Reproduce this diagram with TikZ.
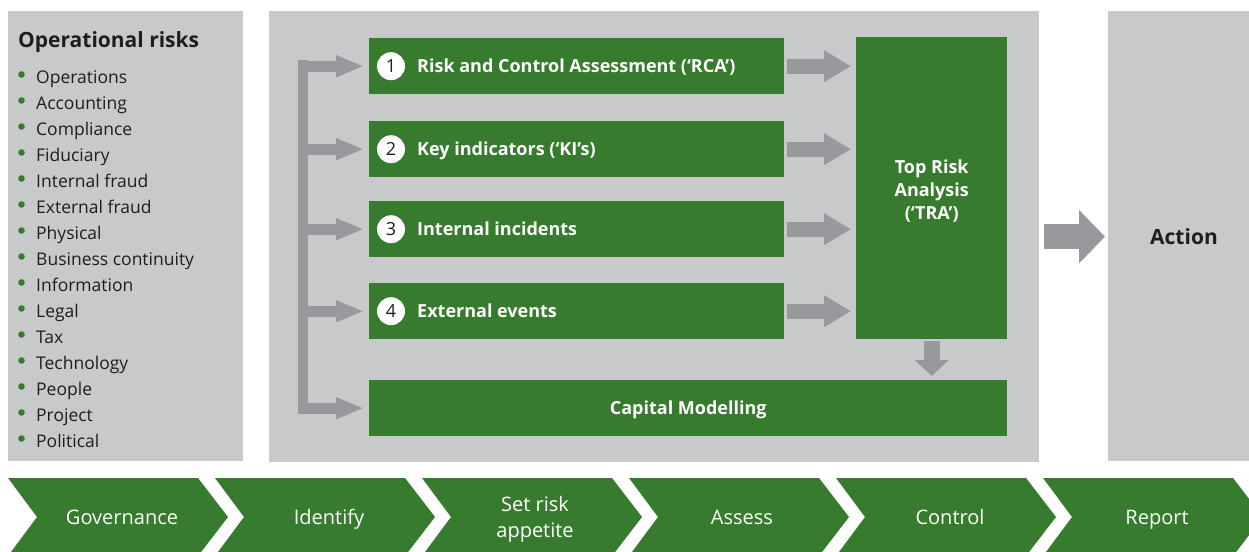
\documentclass[tikz,border=0pt]{standalone}
\usepackage{fontspec}
\setmainfont{Open Sans}
\usetikzlibrary{arrows.meta}
\definecolor{dgreen}{RGB}{55,123,46}
\definecolor{panelgray}{RGB}{200,201,203}
\definecolor{arrowgray}{RGB}{152,153,157}
\definecolor{txtdark}{RGB}{30,30,30}
\begin{document}
\begin{tikzpicture}[x=1pt,y=-1pt,
  panel/.style={fill=panelgray,draw=none,inner sep=0pt,anchor=north west},
  gbox/.style={fill=dgreen,draw=none,inner sep=0pt,anchor=north west},
  btext/.style={text=white,inner sep=0pt,anchor=base west,font=\fontsize{18}{22}\selectfont\bfseries},
  ctext/.style={text=white,inner sep=0pt,anchor=base,font=\fontsize{18}{22}\selectfont\bfseries},
  tratext/.style={text=white,inner sep=0pt,align=center,font=\fontsize{18}{23}\selectfont\bfseries},
  numc/.style={circle,fill=white,minimum size=28pt,inner sep=0pt,text=txtdark,
    font=\fontsize{18}{22}\selectfont},
  ltitle/.style={text=txtdark,inner sep=0pt,anchor=base west,font=\fontsize{21}{25}\selectfont\bfseries},
  litem/.style={text=txtdark,inner sep=0pt,anchor=base west,font=\fontsize{17.5}{21}\selectfont},
  bullet/.style={circle,fill=dgreen,minimum size=6.6pt,inner sep=0pt},
  chev/.style={fill=dgreen,draw=none},
  chevtext/.style={text=white,inner sep=0pt,anchor=base,font=\fontsize{20}{25}\selectfont},
  chevtwo/.style={text=white,inner sep=0pt,align=center,font=\fontsize{20}{25.5}\selectfont},
  rarrow/.style={draw=arrowgray,line width=15pt,-{Triangle[length=27pt,width=30pt]}},
  barrow/.style={draw=arrowgray,line width=11pt,-{Triangle[length=28pt,width=20pt]}},
  darrow/.style={draw=arrowgray,line width=16pt,-{Triangle[length=16pt,width=33pt]}},
  bigarrow/.style={draw=arrowgray,line width=25pt,-{Triangle[length=26pt,width=52pt]}},
  actiontext/.style={text=txtdark,inner sep=0pt,font=\fontsize{21}{25}\selectfont\bfseries}
]
\clip (0,0) rectangle (1249,551);
\fill[white] (0,0) rectangle (1249,551);

% panels
\node[panel,minimum width=235pt,minimum height=450pt] (lp) at (8,11) {};
\node[panel,minimum width=770pt,minimum height=451pt] (mp) at (269,11) {};
\node[panel,minimum width=141pt,minimum height=450pt] (rp) at (1108,11) {};

% left list
\node[ltitle] (title) at (18,48) {Operational risks};
\foreach \t [count=\i from 0] in {Operations,Accounting,Compliance,Fiduciary,Internal fraud,External fraud,Physical,Business continuity,Information,Legal,Tax,Technology,People,Project,Political}{
  \node[bullet] (bul\i) at (21.5,{74.5+26*\i}) {};
  \node[litem] (item\i) at (36,{83+26*\i}) {\t};
}

% green boxes
\node[gbox,minimum width=415pt,minimum height=56pt] (b1) at (369,38) {};
\node[gbox,minimum width=415pt,minimum height=56pt] (b2) at (369,121) {};
\node[gbox,minimum width=415pt,minimum height=56pt] (b3) at (369,201) {};
\node[gbox,minimum width=415pt,minimum height=56pt] (b4) at (369,283) {};
\node[gbox,minimum width=638pt,minimum height=56pt] (cap) at (369,380) {};
\node[gbox,minimum width=151pt,minimum height=302pt] (tra) at (856,37) {};
\node[ctext] (captext) at ([yshift=-6.4pt]cap.center) {Capital Modelling};
\node[tratext] (tratxt) at ([yshift=-2.5pt]tra.center) {Top Risk\\Analysis\\(‘TRA’)};

\node[numc] (n1) at ([xshift=22pt]b1.west) {1};
\node[numc] (n2) at ([xshift=22pt]b2.west) {2};
\node[numc] (n3) at ([xshift=22pt]b3.west) {3};
\node[numc] (n4) at ([xshift=22pt]b4.west) {4};
\node[btext] (t1) at ([xshift=48pt,yshift=-6.4pt]b1.west) {Risk and Control Assessment (‘RCA’)};
\node[btext] (t2) at ([xshift=48pt,yshift=-6.4pt]b2.west) {Key indicators (‘KI’s)};
\node[btext] (t3) at ([xshift=48pt,yshift=-6.4pt]b3.west) {Internal incidents};
\node[btext] (t4) at ([xshift=48pt,yshift=-6.4pt]b4.west) {External events};

% arrows into TRA
\foreach \b in {b1,b2,b3,b4}{
  \coordinate (\b tra) at (\b.east -| tra.west);
  \draw[rarrow] ([xshift=3pt]\b.east) -- ([xshift=-5pt]\b tra);
}

% TRA down to capital modelling
\coordinate (captop) at (tra.south |- cap.north);
\draw[darrow] ([yshift=-2pt]tra.south) -- ([yshift=4pt]captop);

% left bracket
\coordinate (barx) at (298,0);
\fill[arrowgray] (298,60.5) rectangle (308,413.5);
\foreach \b in {b1,b2,b3,b4,cap}{
  \coordinate (\b bar) at (barx |- \b.west);
  \draw[barrow] (\b bar) -- ([xshift=-5pt]\b.west);
}

% big arrow to action
\coordinate (actw) at (rp.west |- mp.east);
\draw[bigarrow] ([xshift=5pt]mp.east) -- ([xshift=-3pt]actw);
\node[actiontext] (action) at (1184,237) {Action};

% chevrons
\foreach \i in {0,...,5}{
  \pgfmathsetmacro{\lt}{8+207*\i}
  \fill[chev] (\lt,478) -- (\lt+190,478) -- (\lt+220,517) -- (\lt+190,556) -- (\lt,556) -- (\lt+29,517) -- cycle;
}
\node[chevtext] (ch0) at (122,524) {Governance};
\node[chevtext] (ch1) at (329,524) {Identify};
\node[chevtwo] (ch2) at (535,519.5) {Set risk\\appetite};
\node[chevtext] (ch3) at (742,524) {Assess};
\node[chevtext] (ch4) at (950,524) {Control};
\node[chevtext] (ch5) at (1157,524) {Report};
\end{tikzpicture}
\end{document}
